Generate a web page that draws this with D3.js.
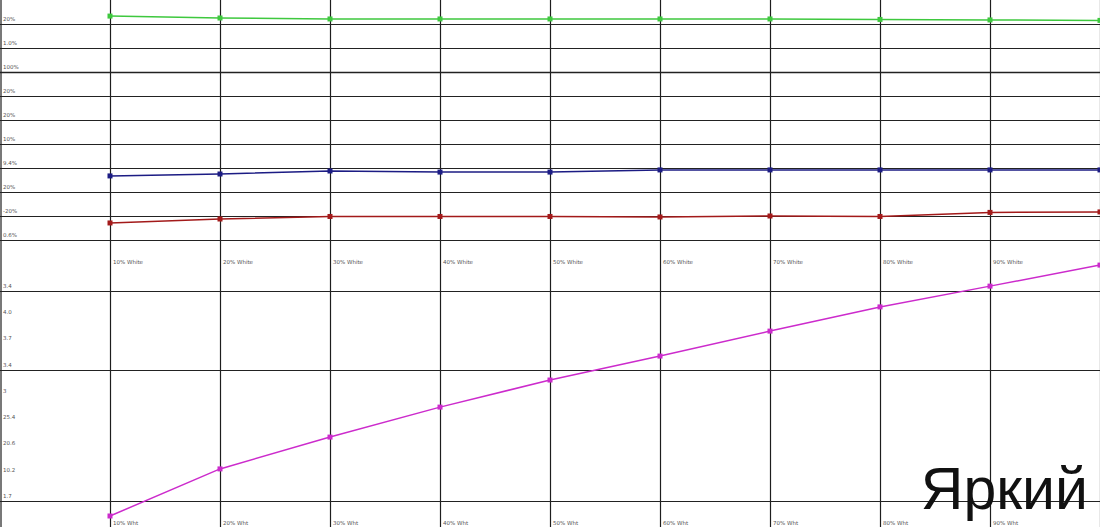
<!DOCTYPE html>
<html><head><meta charset="utf-8">
<script src="https://cdn.jsdelivr.net/npm/d3@7"></script>
<style>html,body{margin:0;padding:0;background:#fff;overflow:hidden}</style>
</head><body>
<svg id="c" width="1100" height="527"></svg>
<script>
const categories = ["10% White","20% White","30% White","40% White","50% White","60% White","70% White","80% White","90% White"];
const catsBottom = ["10% Wht","20% Wht","30% Wht","40% Wht","50% Wht","60% Wht","70% Wht","80% Wht","90% Wht"];
const greenVals = [103.3, 102.5, 102.1, 102.1, 102.1, 102.1, 102.1, 101.9, 101.7, 101.5];
const blueVals  = [36.7, 37.5, 38.75, 38.3, 38.3, 39.2, 39.2, 39.2, 39.2, 39.2];
const redVals   = [17.1, 18.75, 19.8, 19.8, 19.8, 19.6, 20.0, 19.8, 21.5, 21.7];
const magentaVals = [-0.57, 1.22, 2.43, 3.57, 4.6, 5.51, 6.46, 7.38, 8.17, 8.97];
const topTicks = [100, 90, 80, 70, 60, 50, 40, 30, 20, 10];
const topTickLabels = ["20%","1.0%","100%","20%","20%","10%","9.4%","20%","-20%","0.6%"];
const bottomTicks = [8, 7, 6, 5, 4, 3, 2, 1, 0];
const bottomTickLabels = ["3.4","4.0","3.7","3.4","3","25.4","20.6","10.2","1.7"];
const bottomGrid = [8, 5, 0];
const title = "Яркий";

const svg = d3.select("#c");
const W = 1100, H = 527;
const x = d3.scaleLinear().domain([0, 10]).range([0, 1100]);
const yTop = d3.scaleLinear().domain([110, 0]).range([0, 264]);
const yBot = d3.scaleLinear().domain([0, 8]).range([501, 290.6]);

const grid = svg.append("g");
grid.selectAll("line.v").data(d3.range(0, 11)).join("line")
  .attr("x1", d => Math.max(1, Math.round(x(d)) + 0.5)).attr("x2", d => Math.max(1, Math.round(x(d)) + 0.5))
  .attr("y1", 0).attr("y2", H).attr("stroke", "#1e1e1e").attr("stroke-width", 1.2);
grid.selectAll("line.ht").data(topTicks).join("line")
  .attr("x1", 0).attr("x2", W)
  .attr("y1", d => Math.round(yTop(d)) + 0.5).attr("y2", d => Math.round(yTop(d)) + 0.5)
  .attr("stroke", "#222").attr("stroke-width", d => d === 80 ? 1.5 : 1.2);
grid.selectAll("line.hb").data(bottomGrid).join("line")
  .attr("x1", 0).attr("x2", W)
  .attr("y1", d => Math.round(yBot(d)) + 0.5).attr("y2", d => Math.round(yBot(d)) + 0.5)
  .attr("stroke", "#222").attr("stroke-width", 1.2);

const lab = svg.append("g").attr("font-family", "DejaVu Sans, sans-serif").attr("font-size", 5.5).attr("fill", "#555");
lab.selectAll("text.t").data(topTicks).join("text")
  .attr("x", 3).attr("y", d => yTop(d) - 3).text((d, i) => topTickLabels[i]);
lab.selectAll("text.b").data(bottomTicks).join("text")
  .attr("x", 3).attr("y", d => yBot(d) - 3).text((d, i) => bottomTickLabels[i]);
lab.selectAll("text.xt").data(categories).join("text")
  .attr("x", (d, i) => x(i + 1) + 3).attr("y", 264).text(d => d);
lab.selectAll("text.xb").data(catsBottom).join("text")
  .attr("x", (d, i) => x(i + 1) + 3).attr("y", 525).text(d => d);

function series(vals, yScale, color, w) {
  const g = svg.append("g");
  const pts = vals.map((v, i) => [x(i + 1), yScale(v)]);
  g.append("path").attr("d", d3.line()(pts)).attr("fill", "none").attr("stroke", color).attr("stroke-width", w);
  g.selectAll("rect").data(pts).join("rect")
    .attr("x", d => d[0] - 2.5).attr("y", d => d[1] - 2.5).attr("width", 5).attr("height", 5)
    .attr("fill", color);
}
series(greenVals, yTop, "#3ec83e", 1.5);
series(blueVals, yTop, "#1c1c84", 1.5);
series(redVals, yTop, "#a31a1a", 1.5);
series(magentaVals, yBot, "#cc2bcc", 1.5);

svg.append("text").attr("x", 1088).attr("y", 509).attr("text-anchor", "end")
  .attr("font-family", "Liberation Sans, Arial, sans-serif").attr("font-size", 59).attr("fill", "#111")
  .text(title);
</script>
</body></html>
